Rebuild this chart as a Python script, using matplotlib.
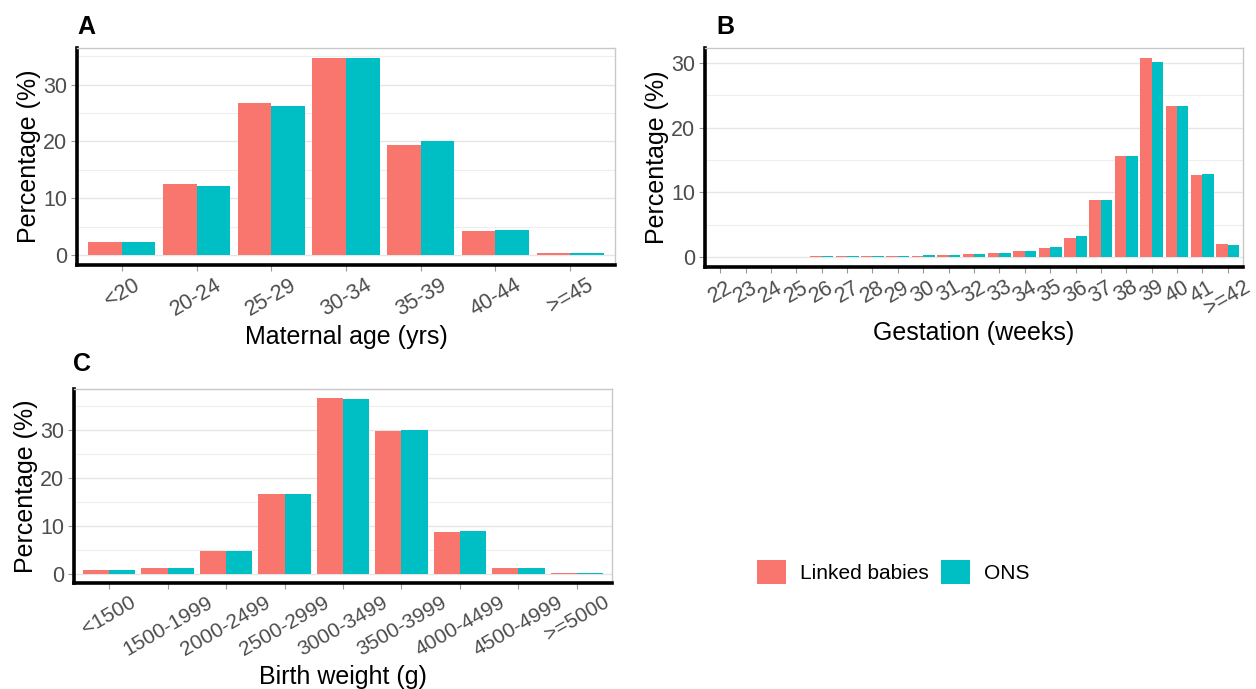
import matplotlib
matplotlib.use("Agg")
import matplotlib.pyplot as plt
from matplotlib.patches import Patch
from matplotlib.ticker import MultipleLocator
import numpy as np

plt.rcParams['font.family'] = ['Liberation Sans', 'DejaVu Sans']

RED = '#F8766D'
TEAL = '#00BFC4'

# Panel A - maternal age
age_labels = ['<20', '20-24', '25-29', '30-34', '35-39', '40-44', '>=45']
age_linked = [2.3, 12.5, 26.8, 34.7, 19.3, 4.3, 0.3]
age_ons = [2.3, 12.2, 26.2, 34.6, 20.0, 4.5, 0.4]

# Panel B - gestation
gest_labels = ['22', '23', '24', '25', '26', '27', '28', '29', '30', '31', '32',
               '33', '34', '35', '36', '37', '38', '39', '40', '41', '>=42']
gest_linked = [0, 0, 0, 0, 0.1, 0.1, 0.1, 0.1, 0.15, 0.25, 0.4, 0.6, 1.0, 1.4,
               3.0, 8.8, 15.7, 30.8, 23.4, 12.7, 2.0]
gest_ons = [0, 0, 0, 0, 0.1, 0.1, 0.1, 0.1, 0.25, 0.3, 0.45, 0.6, 1.0, 1.5,
            3.2, 8.8, 15.7, 30.2, 23.4, 12.8, 1.8]

# Panel C - birth weight
bw_labels = ['<1500', '1500-1999', '2000-2499', '2500-2999', '3000-3499',
             '3500-3999', '4000-4499', '4500-4999', '>=5000']
bw_linked = [0.9, 1.25, 4.8, 16.8, 36.8, 29.8, 8.8, 1.25, 0.2]
bw_ons = [0.9, 1.25, 4.8, 16.8, 36.6, 30.0, 9.0, 1.25, 0.2]

W, H = 1256, 689
fig = plt.figure(figsize=(W / 100, H / 100), dpi=100)


def px_axes(left, top, right, bottom):
    return fig.add_axes([left / W, 1 - bottom / H, (right - left) / W, (bottom - top) / H])


def draw_panel(ax, labels, linked, ons, xlabel, xlab_y, fontsize=15.5):
    n = len(labels)
    x = np.arange(n)
    ax.bar(x - 0.225, linked, width=0.45, color=RED, zorder=3)
    ax.bar(x + 0.225, ons, width=0.45, color=TEAL, zorder=3)
    top = max(max(linked), max(ons))
    ax.set_ylim(-0.05 * top, 1.05 * top)
    ax.set_xlim(-0.6, n - 0.4)
    ax.set_xticks(x)
    ax.set_xticklabels(labels, rotation=30, ha='center', va='top')
    ax.yaxis.set_major_locator(MultipleLocator(10))
    ax.yaxis.set_minor_locator(MultipleLocator(5))
    ax.grid(axis='y', which='major', color='#E6E6E6', lw=1.0, zorder=0)
    ax.grid(axis='y', which='minor', color='#EEEEEE', lw=0.8, zorder=0)
    ax.tick_params(axis='both', which='major', length=4, width=0.8,
                   color='#999999', labelcolor='#4D4D4D', labelsize=fontsize, pad=3)
    ax.tick_params(axis='y', which='minor', length=0)
    ax.tick_params(axis='y', labelsize=15.5)
    for s in ['top', 'right']:
        ax.spines[s].set_color('#C8C8C8')
        ax.spines[s].set_linewidth(1.0)
    for s in ['left', 'bottom']:
        ax.spines[s].set_color('black')
        ax.spines[s].set_linewidth(2.6)
    ax.set_xlabel(xlabel, fontsize=18, color='black')
    ax.set_ylabel('Percentage (%)', fontsize=18, color='black')
    ax.xaxis.label.set_va('center')
    ax.yaxis.label.set_va('center')
    ax.xaxis.set_label_coords(0.5, xlab_y)
    ax.yaxis.set_label_coords(-0.09, 0.5)


axA = px_axes(77, 48, 615, 265)
draw_panel(axA, age_labels, age_linked, age_ons, 'Maternal age (yrs)', -0.33)

axB = px_axes(705, 48, 1243, 267)
draw_panel(axB, gest_labels, gest_linked, gest_ons, 'Gestation (weeks)', -0.30)

axC = px_axes(74, 389, 612, 583)
draw_panel(axC, bw_labels, bw_linked, bw_ons, 'Birth weight (g)', -0.485, fontsize=15)

for letter, px, py in [('A', 77, 27), ('B', 716, 27), ('C', 73, 364)]:
    fig.text(px / W, 1 - py / H, letter, fontsize=18, fontweight='bold',
             ha='left', va='center')

handles = [Patch(facecolor=RED, label='Linked babies'),
           Patch(facecolor=TEAL, label='ONS')]
fig.legend(handles=handles, loc='center left', ncol=2, frameon=False,
           bbox_to_anchor=(757 / W, 1 - 572 / H), fontsize=15,
           handlelength=1.4, handleheight=1.4, handletextpad=0.65,
           columnspacing=0.6, borderpad=0, borderaxespad=0)

fig.savefig('out.png', dpi=100)
